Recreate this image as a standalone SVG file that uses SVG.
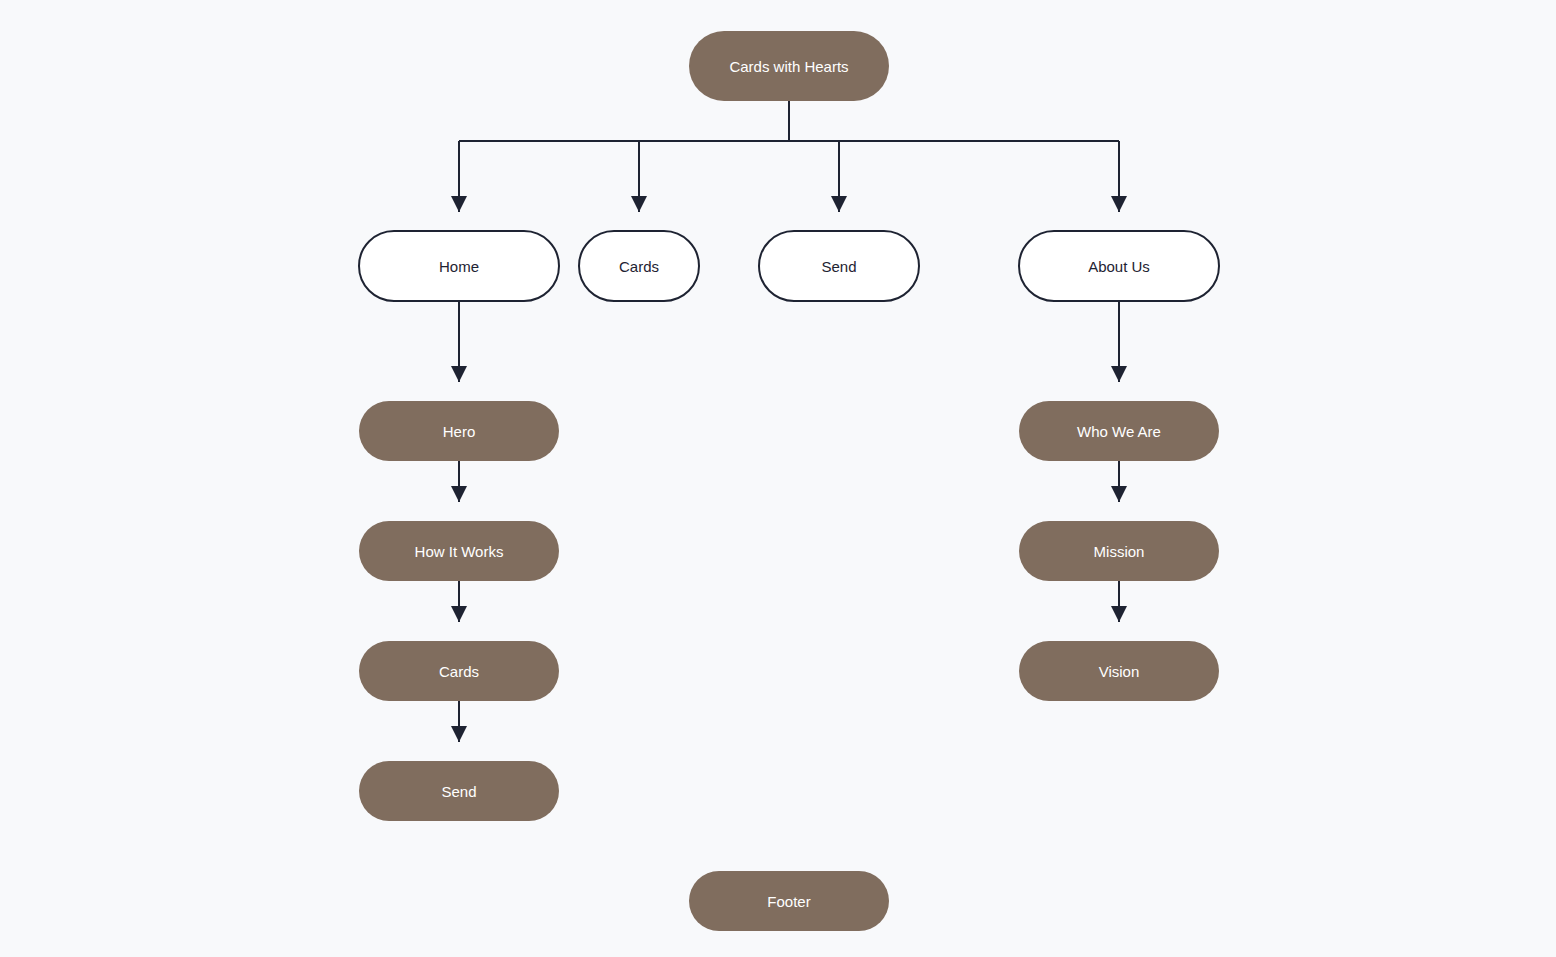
<svg xmlns="http://www.w3.org/2000/svg" width="1556" height="957" viewBox="0 0 1556 957">
<style>
.f{fill:#806d5e}
.o{fill:#fff;stroke:#1e2332;stroke-width:2}
text{font-family:"Liberation Sans",Arial,sans-serif;font-size:15px;text-anchor:middle;dominant-baseline:central}
.w{fill:#fff}
.d{fill:#1e2332}
.c{fill:none;stroke:#1e2332;stroke-width:2}
</style>
<defs><marker id="a" markerWidth="16" markerHeight="16" refX="16" refY="8" orient="auto" markerUnits="userSpaceOnUse"><path d="M0,0L16,8L0,16z" fill="#1e2332"/></marker></defs>
<rect width="1556" height="957" fill="#f8f9fb"/>
<g id="connectors" class="c">
<path d="M789,101V141M459,141H1119"/>
<path d="M459,141V212" marker-end="url(#a)"/>
<path d="M639,141V212" marker-end="url(#a)"/>
<path d="M839,141V212" marker-end="url(#a)"/>
<path d="M1119,141V212" marker-end="url(#a)"/>
<path d="M459,301V382" marker-end="url(#a)"/>
<path d="M1119,301V382" marker-end="url(#a)"/>
<path d="M459,461V502" marker-end="url(#a)"/>
<path d="M459,581V622" marker-end="url(#a)"/>
<path d="M459,701V742" marker-end="url(#a)"/>
<path d="M1119,461V502" marker-end="url(#a)"/>
<path d="M1119,581V622" marker-end="url(#a)"/>
</g>
<g id="root"><rect class="f" x="689" y="31" width="200" height="70" rx="35"/><text class="w" x="789" y="66">Cards with Hearts</text></g>
<g id="home"><rect class="o" x="359" y="231" width="200" height="70" rx="35"/><text class="d" x="459" y="266">Home</text></g>
<g id="cards"><rect class="o" x="579" y="231" width="120" height="70" rx="35"/><text class="d" x="639" y="266">Cards</text></g>
<g id="send"><rect class="o" x="759" y="231" width="160" height="70" rx="35"/><text class="d" x="839" y="266">Send</text></g>
<g id="about"><rect class="o" x="1019" y="231" width="200" height="70" rx="35"/><text class="d" x="1119" y="266">About Us</text></g>
<g id="hero"><rect class="f" x="359" y="401" width="200" height="60" rx="30"/><text class="w" x="459" y="431">Hero</text></g>
<g id="how"><rect class="f" x="359" y="521" width="200" height="60" rx="30"/><text class="w" x="459" y="551">How It Works</text></g>
<g id="cards2"><rect class="f" x="359" y="641" width="200" height="60" rx="30"/><text class="w" x="459" y="671">Cards</text></g>
<g id="send2"><rect class="f" x="359" y="761" width="200" height="60" rx="30"/><text class="w" x="459" y="791">Send</text></g>
<g id="who"><rect class="f" x="1019" y="401" width="200" height="60" rx="30"/><text class="w" x="1119" y="431">Who We Are</text></g>
<g id="mission"><rect class="f" x="1019" y="521" width="200" height="60" rx="30"/><text class="w" x="1119" y="551">Mission</text></g>
<g id="vision"><rect class="f" x="1019" y="641" width="200" height="60" rx="30"/><text class="w" x="1119" y="671">Vision</text></g>
<g id="footer"><rect class="f" x="689" y="871" width="200" height="60" rx="30"/><text class="w" x="789" y="901">Footer</text></g>
</svg>
